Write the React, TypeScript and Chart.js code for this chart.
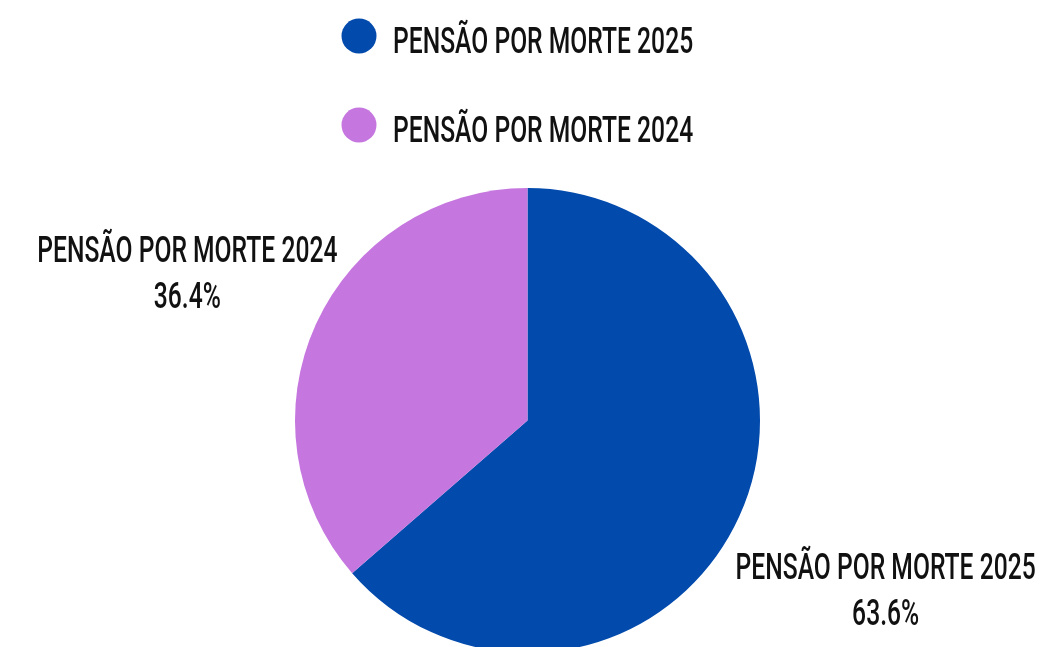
import React, { useEffect, useRef } from "react";
import { Chart, registerables } from "chart.js";

Chart.register(...registerables);

const categories = ["PENSÃO POR MORTE 2025", "PENSÃO POR MORTE 2024"];
const values = [63.6, 36.4];
const percentLabels = ["63.6%", "36.4%"];
const colors = ["#024AAC", "#C576DF"];

const FONT = "500 36px Roboto";
const SCALE_X = 0.685;
const TEXT_COLOR = "#111111";

function drawCondensed(ctx: CanvasRenderingContext2D, text: string, x: number, y: number, align: CanvasTextAlign) {
  ctx.save();
  ctx.translate(x, y);
  ctx.scale(SCALE_X, 1);
  ctx.font = FONT;
  ctx.fillStyle = TEXT_COLOR;
  ctx.textAlign = align;
  ctx.textBaseline = "alphabetic";
  ctx.fillText(text, 0, 0);
  ctx.restore();
}

const labelPlugin = {
  id: "customLabels",
  afterDraw(chart: any) {
    const ctx: CanvasRenderingContext2D = chart.ctx;
    // legend
    categories.forEach((name, i) => {
      const cy = 36 + i * 89;
      ctx.save();
      ctx.beginPath();
      ctx.arc(359, cy, 17.5, 0, Math.PI * 2);
      ctx.fillStyle = colors[i];
      ctx.fill();
      ctx.restore();
      drawCondensed(ctx, name, 393, cy + 17, "left");
    });
    // slice labels
    const meta = chart.getDatasetMeta(0);
    meta.data.forEach((arc: any, i: number) => {
      const p = arc.getProps(["x", "y", "startAngle", "endAngle", "outerRadius"], true);
      const mid = (p.startAngle + p.endAngle) / 2;
      const d = p.outerRadius * 1.65;
      const lx = p.x + Math.cos(mid) * d + 9;
      const ly = p.y + Math.sin(mid) * d + 10;
      drawCondensed(ctx, categories[i], lx, ly - 23 + 13, "center");
      drawCondensed(ctx, percentLabels[i], lx, ly + 23 + 13, "center");
    });
  },
};

export default function App() {
  const ref = useRef<HTMLCanvasElement | null>(null);
  useEffect(() => {
    if (!ref.current) return;
    const chart = new Chart(ref.current, {
      type: "pie",
      data: {
        labels: categories,
        datasets: [
          {
            data: values,
            backgroundColor: colors,
            borderWidth: 0,
          },
        ],
      },
      options: {
        responsive: false,
        animation: false,
        layout: { padding: { left: 295, right: 282, top: 188, bottom: 47 } },
        plugins: {
          legend: { display: false },
          tooltip: { enabled: false },
        },
      },
      plugins: [labelPlugin],
    });
    return () => chart.destroy();
  }, []);
  return (
    <div style={{ position: "absolute", left: 0, top: 0, width: 1042, height: 647, overflow: "hidden", background: "#fff" }}>
      <canvas ref={ref} width={1042} height={700} style={{ display: "block" }} />
    </div>
  );
}
